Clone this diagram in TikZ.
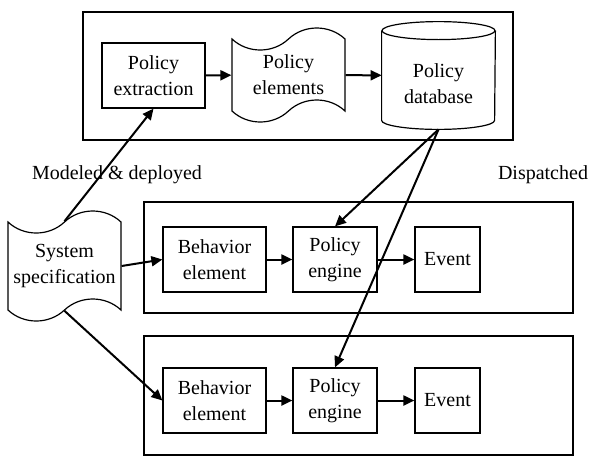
\documentclass[tikz,border=0pt]{standalone}
\usepackage{fontspec}
\setmainfont{Liberation Serif}
\usetikzlibrary{arrows.meta, shapes.symbols}

\begin{document}
\begin{tikzpicture}[
  x=0.5pt, y=-0.5pt,
  font=\fontsize{10}{13}\selectfont,
  flow/.style={draw, line width=1pt, -{Triangle[length=5.5pt,width=5pt]}},
  box/.style={draw, line width=0.6pt, align=center, inner sep=0pt, minimum height=32.5pt},
  doc/.style={draw, line width=0.6pt, tape, align=center, inner sep=0pt, tape bend height=11pt},
  frame/.style={draw, line width=0.8pt, inner sep=0pt}
  ]
  \useasboundingbox (0,0) rectangle (599,456);
  % policy side
  \node[frame, minimum width=215pt, minimum height=64pt] (store) at (298,76) {};
  \node[box, minimum width=51.5pt] (extr) at (153.5,75.5) {Policy\\extraction};
  \node[doc, minimum width=56.5pt, minimum height=47pt] (elem) at (288.5,75) {Policy\\elements};
  \node[inner sep=0pt, minimum width=56.5pt, minimum height=53.5pt] (pdb) at (438.5,75.5) {};
  \draw[line width=0.6pt] ([yshift=-4.5pt]pdb.north west) -- ([yshift=4.5pt]pdb.south west)
    arc[start angle=180, end angle=360, x radius=28.25pt, y radius=4.5pt] -- ([yshift=-4.5pt]pdb.north east);
  \draw[line width=0.6pt] ([yshift=-4.5pt]pdb.north) ellipse [x radius=28.25pt, y radius=4.5pt];
  \node[align=center] (pdbtext) at (438.5,84) {Policy\\database};
  \draw[flow] (extr) -- (elem);
  \draw[flow] (elem) -- (pdb);
  % system side
  \node[doc, minimum width=56.5pt, minimum height=55pt] (spec) at (64.5,266) {System\\specification};
  \node (model) at (117,175) {Modeled \& deployed};
  \node (disp) at (543,175) {Dispatched};
  % first runtime
  \node[frame, minimum width=214.5pt, minimum height=55.5pt] (rtA) at (358.5,257.5) {};
  \node[box, minimum width=51.5pt] (behA) at (214.5,259.5) {Behavior\\element};
  \node[box, minimum width=42pt] (engA) at (335,259.5) {Policy\\engine};
  \node[box, minimum width=32.5pt] (evA) at (447.5,259.5) {Event};
  \draw[flow] (behA) -- (engA);
  \draw[flow] (engA) -- (evA);
  % second runtime
  \node[frame, minimum width=214.5pt, minimum height=59.5pt] (rtB) at (358.5,395.5) {};
  \node[box, minimum width=51.5pt] (behB) at (214.5,400.5) {Behavior\\element};
  \node[box, minimum width=42pt] (engB) at (335,400.5) {Policy\\engine};
  \node[box, minimum width=32.5pt] (evB) at (447.5,400.5) {Event};
  \draw[flow] (behB) -- (engB);
  \draw[flow] (engB) -- (evB);
  % links between parts
  \draw[flow] (spec.north) -- (extr.south);
  \draw[flow] (spec.east) -- (behA.west);
  \draw[flow] (spec.south) -- (behB.west);
  \draw[flow] (pdb.south) -- (engA.north);
  \draw[flow] (pdb.south) -- (engB.north);
\end{tikzpicture}
\end{document}
